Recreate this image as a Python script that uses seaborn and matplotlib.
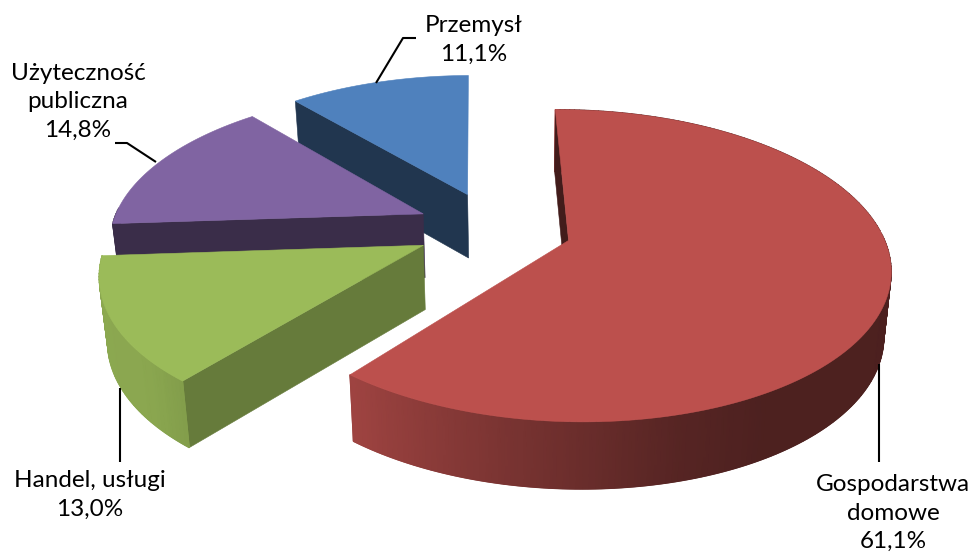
import numpy as np
import matplotlib
matplotlib.use("Agg")
import matplotlib.pyplot as plt
from matplotlib.collections import LineCollection
from matplotlib.colors import LinearSegmentedColormap
import seaborn as sns

# Shares of each sector, in percent, clockwise from the top
categories = ["Gospodarstwa\ndomowe", "Handel, usługi", "Użyteczność\npubliczna", "Przemysł"]
shares = [61.1, 13.0, 14.8, 11.1]
hex_colors = ["#BC504D", "#9BBB59", "#8064A2", "#4F81BD"]
cut_shade = [0.35, 0.66, 0.45, 0.42]
rim_cap = [1.0, 1.0, 0.45, 0.42]

sns.set_theme(style="white")
plt.rcParams["font.family"] = ["Lato", "DejaVu Sans"]
palette = sns.color_palette(hex_colors)

# Camera and pie geometry, in pixels
CX, CY = 494.0, 228.0
FOCAL_X, FOCAL_Y = 312.0, 148.0
PERSPECTIVE = 0.16
THICKNESS = 64.0
VANISH_X, CONVERGE = 520.0, 0.98
EXPLODE = 0.25
START_ANGLE = -0.6


def project(x, y):
    s = 1.0 / (1.0 + PERSPECTIVE * y)
    return CX + FOCAL_X * x * s, CY - FOCAL_Y * y * s, s


def drop(px, py, s):
    return VANISH_X + (px - VANISH_X) * CONVERGE, py + THICKNESS * s ** 0.25


def rim_shade(theta):
    return np.interp(np.mod(theta, 360), [60, 150, 165, 185, 217, 228, 264, 360],
                     [0.40, 0.41, 0.46, 0.60, 0.83, 0.89, 0.90, 0.90])


def shaded(color, k):
    return tuple(min(1.0, c * k) for c in color)


def fill(ax, xs, ys, color, z):
    ax.fill(xs, ys, facecolor=color, edgecolor=color, linewidth=0.4, zorder=z)


def draw_rim(ax, th, px, py, bx, by, color, cap, z):
    # Smoothly shaded curved strip, with its open edges stroked for a clean outline
    if len(th) < 2:
        return
    shade = np.minimum(rim_shade(th), cap)
    cmap = LinearSegmentedColormap.from_list("rim", ["black", color])
    X = np.vstack([px, bx])
    Y = np.vstack([py, by])
    C = np.vstack([shade, shade])
    ax.pcolormesh(X, Y, C, cmap=cmap, vmin=0, vmax=1, shading="gouraud", zorder=z)
    segs = [[(bx[i], by[i]), (bx[i + 1], by[i + 1])] for i in range(len(th) - 1)]
    cols = [shaded(color, s) for s in shade[:-1]]
    ax.add_collection(LineCollection(segs, colors=cols, linewidths=1.0, zorder=z))
    ax.plot([px[-1], bx[-1]], [py[-1], by[-1]], color=cols[-1], lw=0.8, zorder=z)
    ax.plot([px[0], bx[0]], [py[0], by[0]], color=cols[0], lw=0.8, zorder=z)


def draw_slice(ax, a0, a1, color, cut, cap, base_z):
    mid = np.radians((a0 + a1) / 2)
    ox, oy = EXPLODE * np.sin(mid), EXPLODE * np.cos(mid)
    th = np.linspace(a0, a1, max(8, int(a1 - a0)))
    rad = np.radians(th)
    px, py, s = project(ox + np.sin(rad), oy + np.cos(rad))
    hx, hy, hs = project(ox, oy)
    bx, by = drop(px, py, s)
    hbx, hby = drop(hx, hy, hs)

    front = np.cos(rad) <= 0.05
    back = ~front

    # Far part of the rim (only the large slice shows it), then the cut face
    # along the leading edge, then the near part of the rim
    if cap >= 1.0:
        draw_rim(ax, th[back], px[back], py[back], bx[back], by[back], color, cap, base_z)
    fill(ax, [hx, px[0], bx[0], hbx], [hy, py[0], by[0], hby],
         shaded(color, cut), base_z + 0.1)
    draw_rim(ax, th[front], px[front], py[front], bx[front], by[front], color, cap, base_z + 0.2)

    # Flat top surface
    fill(ax, np.r_[hx, px], np.r_[hy, py], color, base_z + 0.3)


fig = plt.figure(figsize=(9.74, 5.56), dpi=100)
ax = fig.add_axes([0, 0, 1, 1])
ax.set_xlim(0, 974)
ax.set_ylim(556, 0)
ax.axis("off")

edges = START_ANGLE + np.r_[0, np.cumsum(shares)] / sum(shares) * 360
for z, idx in enumerate((3, 2, 1, 0)):
    draw_slice(ax, edges[idx], edges[idx + 1], palette[idx], cut_shade[idx], rim_cap[idx], 2 + z)

# Leader lines from each slice to its label
leaders = [
    ([879, 879], [364, 462]),
    ([119.5, 119.5], [388, 462]),
    ([156, 127, 115], [162, 143, 143]),
    ([376, 403, 416], [83, 38, 38]),
]
for xs, ys in leaders:
    ax.plot(xs, ys, color="black", lw=1.5, zorder=7, solid_capstyle="butt")

label_pos = [(893, 513), (90, 495), (78, 102), (474, 40)]
for name, share, (x, y) in zip(categories, shares, label_pos):
    text = f"{name}\n{share:.1f}%".replace(".", ",")
    ax.text(x, y, text, ha="center", va="center", fontsize=17.5, color="black",
            linespacing=1.42, zorder=8)

fig.savefig("out.png", dpi=100, facecolor="white")
